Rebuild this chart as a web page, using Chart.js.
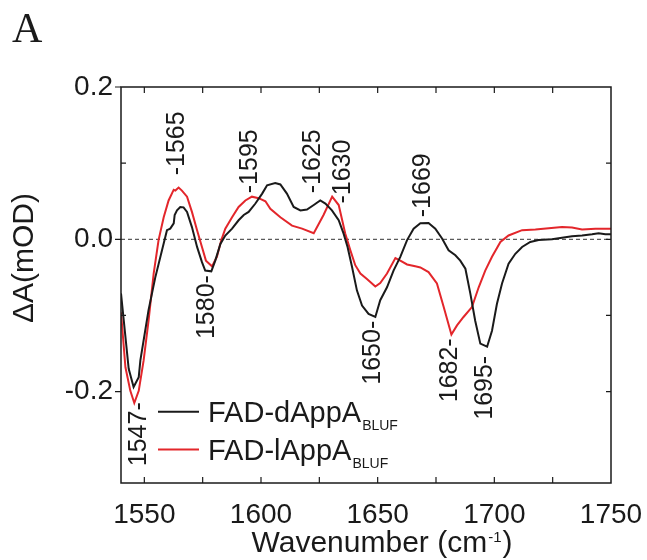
<!DOCTYPE html>
<html>
<head>
<meta charset="utf-8">
<script src="https://cdn.jsdelivr.net/npm/chart.js@4.4.0/dist/chart.umd.min.js"></script>
<style>
html, body { margin: 0; padding: 0; background: #fff; }
#wrap { width: 647px; height: 560px; }
</style>
</head>
<body>
<div id="wrap"><canvas id="spectrum" width="647" height="560"></canvas></div>
<script>
// FTIR difference spectra (light minus dark), two BLUF constructs
const darkWavenumbers = [
  1540, 1543.3, 1545.4, 1547.6, 1548.3, 1551.8, 1554.7, 1557.6, 1559.7, 1561.1,
  1562.6, 1563, 1564, 1565.4, 1566.8, 1568.3, 1570.4, 1572.6, 1574.7, 1576.1,
  1578.7, 1580.4, 1582.6, 1584.7, 1587.6, 1590.4, 1592.6, 1594.7, 1597.6, 1600.5,
  1602.6, 1606.1, 1608.3, 1611.1, 1614, 1616.9, 1619.7, 1622.6, 1625.4, 1627.6,
  1630.4, 1633.3, 1635.4, 1637.1, 1639, 1641.1, 1643.3, 1646.1, 1649, 1651.1,
  1654, 1656.8, 1659.7, 1662.6, 1665.4, 1668.3, 1671.8, 1674.7, 1677.6, 1680.4,
  1683.3, 1685.4, 1687.6, 1689.7, 1691.8, 1694, 1696.9, 1699, 1701.1, 1703.3,
  1706.1, 1709, 1711.9, 1715.4, 1719, 1724.7, 1729, 1733.3, 1737.6, 1741.9,
  1744.7, 1747.6, 1750
];
const darkValues = [
  -0.071, -0.170, -0.194, -0.181, -0.159, -0.093, -0.050, -0.014, 0.012, 0.014,
  0.021, 0.032, 0.038, 0.0425, 0.042, 0.036, 0.016, -0.010, -0.030, -0.041,
  -0.042, -0.028, -0.006, 0.005, 0.014, 0.025, 0.032, 0.036, 0.047, 0.060,
  0.071, 0.074, 0.072, 0.060, 0.0425, 0.038, 0.039, 0.045, 0.051, 0.047,
  0.038, 0.025, 0.0075, -0.010, -0.036, -0.067, -0.087, -0.098, -0.102, -0.080,
  -0.063, -0.041, -0.023, -0.001, 0.014, 0.021, 0.0215, 0.014, 0.001, -0.0145,
  -0.021, -0.028, -0.0386, -0.071, -0.107, -0.137, -0.141, -0.120, -0.085, -0.058,
  -0.032, -0.019, -0.010, -0.0035, -0.001, 0.000, 0.002, 0.004, 0.005, 0.0066,
  0.008, 0.0066, 0.0066
];

const lightWavenumbers = [
  1540, 1541.9, 1544, 1545.7, 1547.6, 1549.7, 1551.8, 1554, 1556.1, 1558.3,
  1560.4, 1562.1, 1562.6, 1563.3, 1564.7, 1566.1, 1568.3, 1570.4, 1572.6, 1574.7,
  1576.4, 1579, 1581.1, 1583, 1584.7, 1587.6, 1590.4, 1593.3, 1596.1, 1599,
  1601.9, 1604, 1608.3, 1613.3, 1617.6, 1622.6, 1626.8, 1630.5, 1633.3, 1636.1,
  1638.3, 1640.4, 1642.6, 1645.4, 1649, 1651.1, 1654, 1657.6, 1659.7, 1662.6,
  1666.1, 1668.3, 1671.8, 1675.4, 1678.3, 1681.6, 1684, 1686.8, 1690.4, 1693.3,
  1696.1, 1699, 1702.6, 1706.1, 1711.9, 1717.6, 1723.3, 1729, 1733.3, 1737.6,
  1743.3, 1750
];
const lightValues = [
  -0.096, -0.168, -0.199, -0.215, -0.199, -0.159, -0.107, -0.045, -0.001, 0.029,
  0.051, 0.062, 0.065, 0.064, 0.068, 0.064, 0.056, 0.036, 0.012, -0.010,
  -0.028, -0.0355, -0.023, -0.001, 0.014, 0.029, 0.0425, 0.051, 0.056, 0.054,
  0.050, 0.040, 0.029, 0.018, 0.014, 0.008, 0.032, 0.056, 0.045, 0.0075,
  -0.0145, -0.034, -0.045, -0.052, -0.062, -0.0575, -0.045, -0.0246, -0.028, -0.033,
  -0.0355, -0.037, -0.043, -0.058, -0.089, -0.125, -0.113, -0.102, -0.089, -0.063,
  -0.041, -0.023, -0.0035, 0.005, 0.012, 0.013, 0.0145, 0.016, 0.0154, 0.013,
  0.014, 0.014
];

const seriesNames = ['FAD-dAppA', 'FAD-lAppA'];
const seriesSubscript = 'BLUF';

const xTickValues = [1550, 1600, 1650, 1700, 1750];
const xMinorValues = [1550, 1575, 1600, 1625, 1650, 1675, 1700, 1725];
const yTickValues = [-0.2, 0.0, 0.2];
const yMinorValues = [-0.2, -0.1, 0.0, 0.1];

// band assignments written next to the peaks
const peakLabels = ['1547', '1565', '1580', '1595', '1625', '1630', '1650', '1669', '1682', '1695'];
const peakAbove = [false, true, false, true, true, true, false, true, false, false];
// where each label's dash points, in (cm-1, mOD)
const peakLabelAt = [
  [1547.4, -0.214], [1563.7, 0.084], [1576.5, -0.047], [1595, 0.0605], [1621.9, 0.0605],
  [1634.7, 0.047], [1647.6, -0.107], [1669, 0.029], [1680.7, -0.130], [1695.7, -0.153]
];

const FONT = "'Liberation Sans', Arial, sans-serif";
const INK = '#1a1a1a';
const RED = '#e3262b';

function toPoints(xs, ys) {
  return xs.map((x, i) => ({ x: x, y: ys[i] }));
}

// zero line under the spectra
const zeroLinePlugin = {
  id: 'zeroLine',
  beforeDatasetsDraw: (chart) => {
    const { ctx, chartArea } = chart;
    const y0 = chart.scales.y.getPixelForValue(0);
    ctx.save();
    ctx.beginPath();
    ctx.setLineDash([4, 3]);
    ctx.lineWidth = 1;
    ctx.strokeStyle = '#333';
    ctx.moveTo(chartArea.left, y0);
    ctx.lineTo(chartArea.right, y0);
    ctx.stroke();
    ctx.restore();
  }
};

// frame, inward ticks, legend, peak labels and axis titles
const decorPlugin = {
  id: 'decor',
  afterDraw: (chart) => {
    const { ctx, chartArea } = chart;
    const xs = chart.scales.x;
    const ys = chart.scales.y;
    const { left, right, top, bottom } = chartArea;

    ctx.save();
    ctx.strokeStyle = INK;
    ctx.lineWidth = 1.5;
    ctx.strokeRect(left, top, right - left, bottom - top);

    ctx.lineWidth = 1.2;
    ctx.beginPath();
    xMinorValues.forEach(v => {
      const px = xs.getPixelForValue(v);
      ctx.moveTo(px, top); ctx.lineTo(px, top + 6);
      ctx.moveTo(px, bottom); ctx.lineTo(px, bottom - 6);
    });
    yMinorValues.forEach(v => {
      const py = ys.getPixelForValue(v);
      ctx.moveTo(right, py); ctx.lineTo(right - 5, py);
      if (!yTickValues.includes(v)) {
        ctx.moveTo(left, py); ctx.lineTo(left + 5, py);
      }
    });
    yTickValues.forEach(v => {
      const py = ys.getPixelForValue(v);
      ctx.moveTo(left, py); ctx.lineTo(left - 6, py);
    });
    ctx.stroke();

    // legend
    const legendColors = [INK, RED];
    const legendBase = [421.7, 459.5];
    legendColors.forEach((c, i) => {
      const ly = legendBase[i] - 10;
      ctx.beginPath();
      ctx.strokeStyle = c;
      ctx.lineWidth = 2;
      ctx.moveTo(158, ly);
      ctx.lineTo(199, ly);
      ctx.stroke();
      ctx.fillStyle = INK;
      ctx.textAlign = 'left';
      ctx.textBaseline = 'alphabetic';
      ctx.font = `29px ${FONT}`;
      ctx.fillText(seriesNames[i], 208, legendBase[i]);
      const w = ctx.measureText(seriesNames[i]).width;
      ctx.font = `14px ${FONT}`;
      ctx.fillText(seriesSubscript, 208 + w + 1, legendBase[i] + 8);
    });

    // peak labels, rotated
    ctx.fillStyle = INK;
    ctx.font = `25px ${FONT}`;
    ctx.textBaseline = 'middle';
    peakLabels.forEach((txt, i) => {
      const px = xs.getPixelForValue(peakLabelAt[i][0]);
      const py = ys.getPixelForValue(peakLabelAt[i][1]);
      ctx.save();
      ctx.translate(px, py);
      ctx.rotate(-Math.PI / 2);
      if (peakAbove[i]) {
        ctx.textAlign = 'left';
        ctx.fillText('-' + txt, 0, 1);
      } else {
        ctx.textAlign = 'right';
        ctx.fillText(txt + '-', 0, 1);
      }
      ctx.restore();
    });

    // y title
    ctx.save();
    ctx.translate(25, 258);
    ctx.rotate(-Math.PI / 2);
    ctx.font = `30px ${FONT}`;
    ctx.textAlign = 'center';
    ctx.textBaseline = 'middle';
    ctx.fillText('ΔA(mOD)', 0, 0);
    ctx.restore();

    // x title with superscript
    ctx.textBaseline = 'alphabetic';
    ctx.textAlign = 'left';
    ctx.font = `30px ${FONT}`;
    const main = 'Wavenumber (cm';
    const wMain = ctx.measureText(main).width;
    const wClose = ctx.measureText(')').width;
    ctx.font = `15px ${FONT}`;
    const wSup = ctx.measureText('-1').width;
    const total = wMain + wSup + 2 + wClose;
    const x0 = 382 - total / 2;
    const base = 551.5;
    ctx.font = `30px ${FONT}`;
    ctx.fillText(main, x0, base);
    ctx.fillText(')', x0 + wMain + wSup + 2, base);
    ctx.font = `15px ${FONT}`;
    ctx.fillText('-1', x0 + wMain + 1, base - 10);

    // panel letter
    ctx.font = "42px 'Liberation Serif', 'Times New Roman', serif";
    ctx.fillText('A', 12, 42);
    ctx.restore();
  }
};

const chart = new Chart(document.getElementById('spectrum'), {
  type: 'line',
  data: {
    datasets: [
      {
        label: seriesNames[0] + seriesSubscript,
        data: toPoints(darkWavenumbers, darkValues),
        borderColor: INK,
        borderWidth: 2,
        pointRadius: 0,
        tension: 0,
        fill: false
      },
      {
        label: seriesNames[1] + seriesSubscript,
        data: toPoints(lightWavenumbers, lightValues),
        borderColor: RED,
        borderWidth: 2,
        pointRadius: 0,
        tension: 0,
        fill: false
      }
    ]
  },
  options: {
    responsive: false,
    animation: false,
    layout: { padding: { top: 87, right: 36, left: 0, bottom: 0 } },
    plugins: {
      legend: { display: false },
      tooltip: { enabled: false }
    },
    scales: {
      x: {
        type: 'linear',
        min: 1540,
        max: 1750,
        afterBuildTicks: (scale) => { scale.ticks = xTickValues.map(v => ({ value: v })); },
        afterFit: (scale) => {
          scale.height = 77;
          scale.paddingLeft = 0;
          scale.paddingRight = 0;
        },
        grid: { display: false, drawTicks: false },
        border: { display: false },
        ticks: {
          padding: 15,
          color: INK,
          font: { family: FONT, size: 28 },
          maxRotation: 0,
          autoSkip: false,
          callback: (v) => String(v)
        }
      },
      y: {
        min: -0.32,
        max: 0.2,
        afterBuildTicks: (scale) => { scale.ticks = yTickValues.map(v => ({ value: v })); },
        afterFit: (scale) => {
          scale.width = 121;
          scale.paddingTop = 0;
          scale.paddingBottom = 0;
        },
        grid: { display: false, drawTicks: false },
        border: { display: false },
        ticks: {
          padding: 8,
          color: INK,
          font: { family: FONT, size: 28 },
          autoSkip: false,
          callback: (v) => v.toFixed(1)
        }
      }
    }
  },
  plugins: [zeroLinePlugin, decorPlugin]
});
</script>
</body>
</html>
